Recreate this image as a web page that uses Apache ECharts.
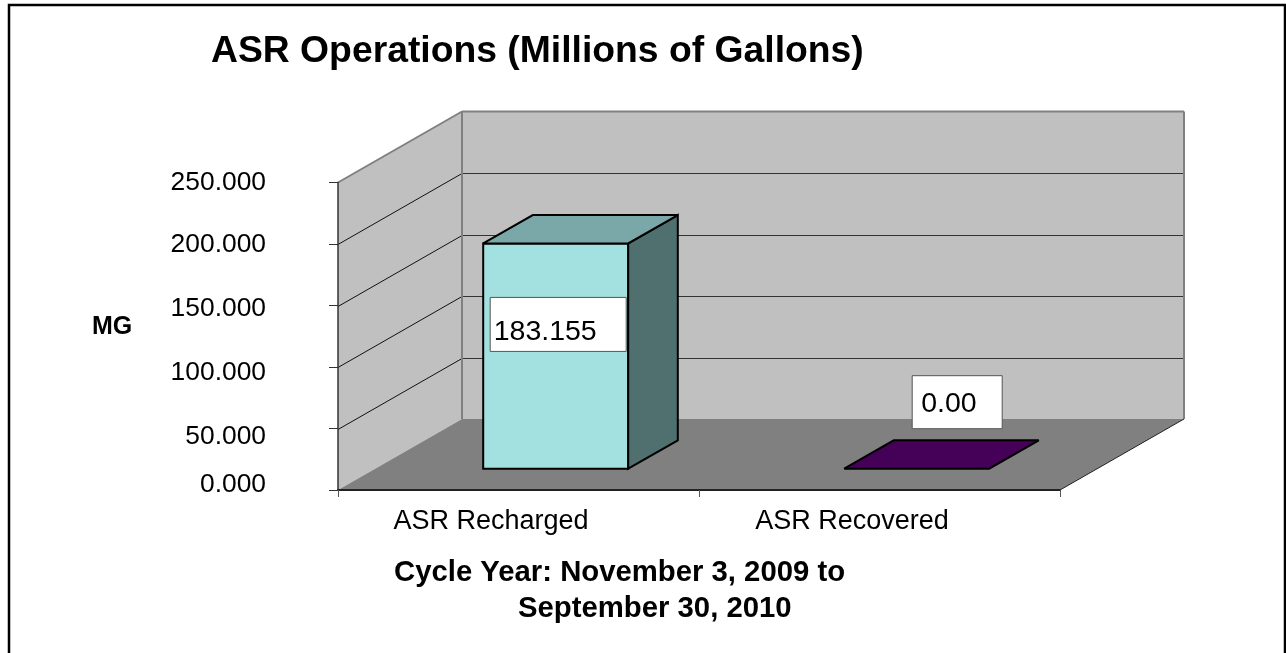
<!DOCTYPE html>
<html>
<head>
<meta charset="utf-8">
<title>ASR Operations</title>
<script src="https://cdn.jsdelivr.net/npm/echarts@6/dist/echarts.min.js"></script>
<style>
  html, body { margin: 0; padding: 0; background: #fff; }
  #chart { width: 1286px; height: 653px; }
</style>
</head>
<body>
<div id="chart"></div>
<script>
const categories = ['ASR Recharged', 'ASR Recovered']
const values = [183.155, 0]
const valueLabels = ['183.155', '0.00']
const yTicks = [0, 50, 100, 150, 200, 250]

const FONT = '"Liberation Sans", Arial, sans-serif'
// how far the 3D box reaches back, in pixels
const DEPTH_X = 124
const DEPTH_Y = -71
// bars sit between these fractions of the depth
const BAR_FRONT = 0.3
const BAR_BACK = 0.7
const BAR_WIDTH = 145

const barColors = [
  { front: '#a3e0e0', top: '#7aa8a8', side: '#507070' },
  { front: '#450057', top: '#450057', side: '#330040' },
]
// data label boxes, relative to the bar's top left front corner
const labelBoxes = [
  { dx: 7, dy: 54, w: 136, h: 54, tx: 3.5, ty: 35 },
  { dx: 68, dy: -93, w: 90, h: 53, tx: 9, ty: 28 },
]

// shifts the y labels off their ticks like the original does
const yLabelShift = { 0: -5, 50: 8, 100: 6, 150: 3.5, 200: 1, 250: 0 }

function poly(points, fill, stroke, lineWidth) {
  return {
    type: 'polygon',
    shape: { points },
    style: { fill, stroke: stroke || 'none', lineWidth: lineWidth || 0, lineJoin: 'miter', miterLimit: 2 },
  }
}

function line(x1, y1, x2, y2, stroke, lineWidth) {
  return {
    type: 'line',
    shape: { x1, y1, x2, y2 },
    style: { stroke, lineWidth },
  }
}

function renderWalls(params, api) {
  const cs = params.coordSys
  const left = cs.x
  const right = cs.x + cs.width
  const y0 = api.coord([0, 0])[1]
  const yTop = api.coord([0, 250])[1]
  const backL = left + DEPTH_X
  const backR = right + DEPTH_X
  const children = [
    poly([[backL, yTop + DEPTH_Y], [backR, yTop + DEPTH_Y], [backR, y0 + DEPTH_Y], [backL, y0 + DEPTH_Y]], '#c0c0c0'),
    poly([[left, yTop], [backL, yTop + DEPTH_Y], [backL, y0 + DEPTH_Y], [left, y0]], '#c0c0c0'),
  ]
  yTicks.slice(1, -1).forEach(v => {
    const y = Math.round(api.coord([0, v])[1]) + 0.5
    children.push(line(left, y, backL, y + DEPTH_Y, '#111', 1))
    children.push(line(backL, y + DEPTH_Y, backR, y + DEPTH_Y, '#333', 1))
  })
  children.push(poly([[left, y0], [backL, y0 + DEPTH_Y], [backR, y0 + DEPTH_Y], [right, y0]], '#808080'))
  children.push(line(left, yTop, backL, yTop + DEPTH_Y, '#808080', 2))
  children.push(line(backL, yTop + DEPTH_Y, backR, yTop + DEPTH_Y, '#808080', 2))
  children.push(line(backL, yTop + DEPTH_Y, backL, y0 + DEPTH_Y, '#808080', 2))
  children.push(line(backR, yTop + DEPTH_Y, backR, y0 + DEPTH_Y, '#808080', 2))
  children.push(line(right, y0, backR, y0 + DEPTH_Y, '#222', 1))
  return { type: 'group', children }
}

function renderBar(params, api) {
  const i = api.value(0)
  const center = api.coord([i, 0])[0]
  const y0 = api.coord([i, 0])[1]
  const yVal = api.coord([i, api.value(1)])[1]
  const c = barColors[i]
  const fx = DEPTH_X * BAR_FRONT
  const fy = DEPTH_Y * BAR_FRONT
  const bx = DEPTH_X * (BAR_BACK - BAR_FRONT)
  const by = DEPTH_Y * (BAR_BACK - BAR_FRONT)
  const xl = center - BAR_WIDTH / 2 + fx
  const xr = center + BAR_WIDTH / 2 + fx
  const yb = y0 + fy
  const yt = yVal + fy
  const box = labelBoxes[i]
  const stroke = '#000'
  const children = []
  if (yb - yt > 0) {
    children.push(poly([[xl, yb], [xr, yb], [xr, yt], [xl, yt]], c.front, stroke, 2))
    children.push(poly([[xr, yb], [xr + bx, yb + by], [xr + bx, yt + by], [xr, yt]], c.side, stroke, 2))
  }
  children.push(poly([[xl, yt], [xr, yt], [xr + bx, yt + by], [xl + bx, yt + by]], c.top, stroke, 2))
  children.push({
    type: 'rect',
    shape: { x: xl + box.dx, y: yt + box.dy, width: box.w, height: box.h },
    style: { fill: '#fff', stroke: '#555', lineWidth: 1 },
  })
  children.push({
    type: 'text',
    x: xl + box.dx + box.tx,
    y: yt + box.dy + box.ty,
    style: {
      text: valueLabels[i],
      fill: '#000',
      font: '28.5px ' + FONT,
      verticalAlign: 'middle',
      align: 'left',
    },
  })
  return { type: 'group', children }
}

const yRich = {}
yTicks.forEach(v => {
  const s = yLabelShift[v]
  yRich['t' + v] = {
    fontFamily: FONT, fontSize: 26.4, color: '#000',
    padding: s >= 0 ? [s * 2, 0, 0, 0] : [0, 0, -s * 2, 0],
  }
})

const titleStyle = size => ({ fontFamily: FONT, fontSize: size, fontWeight: 'bold', color: '#000' })

const chart = echarts.init(document.getElementById('chart'))
chart.setOption({
  animation: false,
  backgroundColor: '#fff',
  title: [
    { text: 'ASR Operations (Millions of Gallons)', left: 206, top: 28, textStyle: titleStyle(37.3) },
    { text: 'MG', left: 87, top: 310, textStyle: titleStyle(25) },
    { text: 'Cycle Year: November 3, 2009 to', left: 389, top: 553, textStyle: titleStyle(29.3) },
    { text: 'September 30, 2010', left: 513, top: 589, textStyle: titleStyle(29.3) },
  ],
  graphic: [{
    type: 'rect',
    silent: true,
    shape: { x: 9, y: 5, width: 1276, height: 700 },
    style: { fill: 'none', stroke: '#000', lineWidth: 2.5 },
  }],
  grid: { left: 338, top: 182.5, width: 722, height: 307.5 },
  xAxis: {
    type: 'category',
    data: categories,
    z: 5,
    axisLine: { lineStyle: { color: '#222', width: 2 } },
    axisTick: { show: true, alignWithLabel: false, length: 7, lineStyle: { color: '#555', width: 1 } },
    axisLabel: { fontFamily: FONT, fontSize: 27, color: '#000', margin: 18, padding: [0, 55, 0, 0], interval: 0 },
    splitLine: { show: false },
  },
  yAxis: {
    type: 'value',
    min: 0,
    max: 250,
    interval: 50,
    z: 5,
    axisLine: { show: true, lineStyle: { color: '#333', width: 1.5 } },
    axisTick: { show: true, length: 9, lineStyle: { color: '#333', width: 1 } },
    axisLabel: { margin: 72, formatter: v => `{t${v}|${v.toFixed(3)}}`, rich: yRich },
    splitLine: { show: false },
  },
  series: [
    { type: 'custom', name: 'walls', data: [[0, 0]], renderItem: renderWalls, silent: true, clip: false, z: 1 },
    { type: 'custom', name: 'ASR', data: values.map((v, i) => [i, v]), renderItem: renderBar, clip: false, z: 2 },
  ],
})
</script>
</body>
</html>
